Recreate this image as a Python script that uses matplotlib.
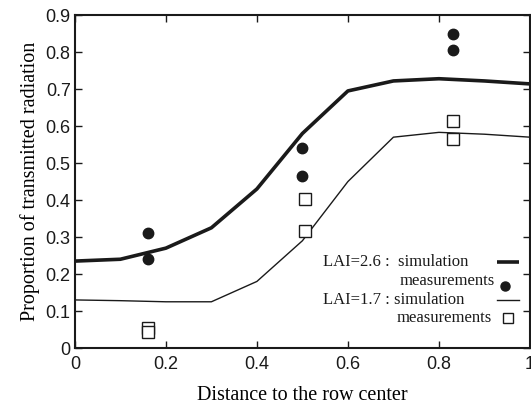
import numpy as np
import matplotlib
matplotlib.use("Agg")
import matplotlib.pyplot as plt

# simulation curves
dist_sim = [0.0, 0.1, 0.2, 0.3, 0.4, 0.5, 0.6, 0.7, 0.8, 0.9, 1.0]
sim_lai26 = [0.235, 0.24, 0.27, 0.325, 0.43, 0.58, 0.695, 0.722, 0.728, 0.722, 0.714]
sim_lai17 = [0.13, 0.128, 0.125, 0.125, 0.18, 0.29, 0.45, 0.57, 0.583, 0.578, 0.57]

# measurements
dist_meas26 = [0.16, 0.16, 0.5, 0.5, 0.83, 0.83]
meas_lai26 = [0.31, 0.24, 0.54, 0.465, 0.848, 0.805]
dist_meas17 = [0.16, 0.16, 0.505, 0.505, 0.83, 0.83]
meas_lai17 = [0.055, 0.043, 0.403, 0.317, 0.615, 0.565]

fig = plt.figure(figsize=(5.31, 4.08), dpi=100)
ax = fig.add_axes([0.141, 0.147, 0.857, 0.816])

ax.plot(dist_sim, sim_lai26, color='#1a1a1a', lw=2.6, solid_capstyle='butt')
ax.plot(dist_sim, sim_lai17, color='#1a1a1a', lw=1.0)
ax.plot(dist_meas26, meas_lai26, 'o', color='#1a1a1a', ms=7.5, clip_on=False)
ax.plot(dist_meas17, meas_lai17, 's', mfc='white', mec='#1a1a1a', mew=1.0, ms=8, clip_on=False)

ax.set_xlim(0, 1)
ax.set_ylim(0, 0.9)
ax.set_xticks([0, 0.2, 0.4, 0.6, 0.8, 1])
ax.set_xticklabels(['0', '0.2', '0.4', '0.6', '0.8', '1'])
ax.set_yticks(np.arange(0, 0.91, 0.1))
ax.set_yticklabels(['0', '0.1', '0.2', '0.3', '0.4', '0.5', '0.6', '0.7', '0.8', '0.9'])
ax.tick_params(direction='in', top=True, right=True, length=5, width=1,
               labelsize=13, colors='#1a1a1a')
ax.tick_params(axis='x', pad=6)
ax.tick_params(axis='y', pad=3)
for lab in ax.get_xticklabels() + ax.get_yticklabels():
    lab.set_family('Liberation Sans')
for s in ax.spines.values():
    s.set_linewidth(1.5)
    s.set_color('#1a1a1a')

ax.set_xlabel('Distance to the row center', family='Liberation Serif', fontsize=14.5, labelpad=9)
ax.set_ylabel('Proportion of transmitted radiation', family='Liberation Serif', fontsize=14.5, labelpad=4)

# hand made legend
tf = ax.transAxes
lfont = dict(family='Liberation Serif', fontsize=12, color='#1a1a1a', transform=tf, va='center')
ax.text(0.546, 0.258, 'LAI=2.6 :  simulation', **lfont)
ax.text(0.713, 0.201, 'measurements', **lfont)
ax.text(0.546, 0.144, 'LAI=1.7 : simulation', **lfont)
ax.text(0.706, 0.090, 'measurements', **lfont)
ax.plot([0.928, 0.976], [0.258, 0.258], color='#1a1a1a', lw=2.6, transform=tf, solid_capstyle='butt')
ax.plot([0.945], [0.186], 'o', color='#1a1a1a', ms=6.5, transform=tf)
ax.plot([0.928, 0.976], [0.144, 0.144], color='#1a1a1a', lw=1.0, transform=tf)
ax.plot([0.952], [0.090], 's', mfc='white', mec='#1a1a1a', mew=1.0, ms=7, transform=tf)

fig.savefig('out.png', dpi=100)
